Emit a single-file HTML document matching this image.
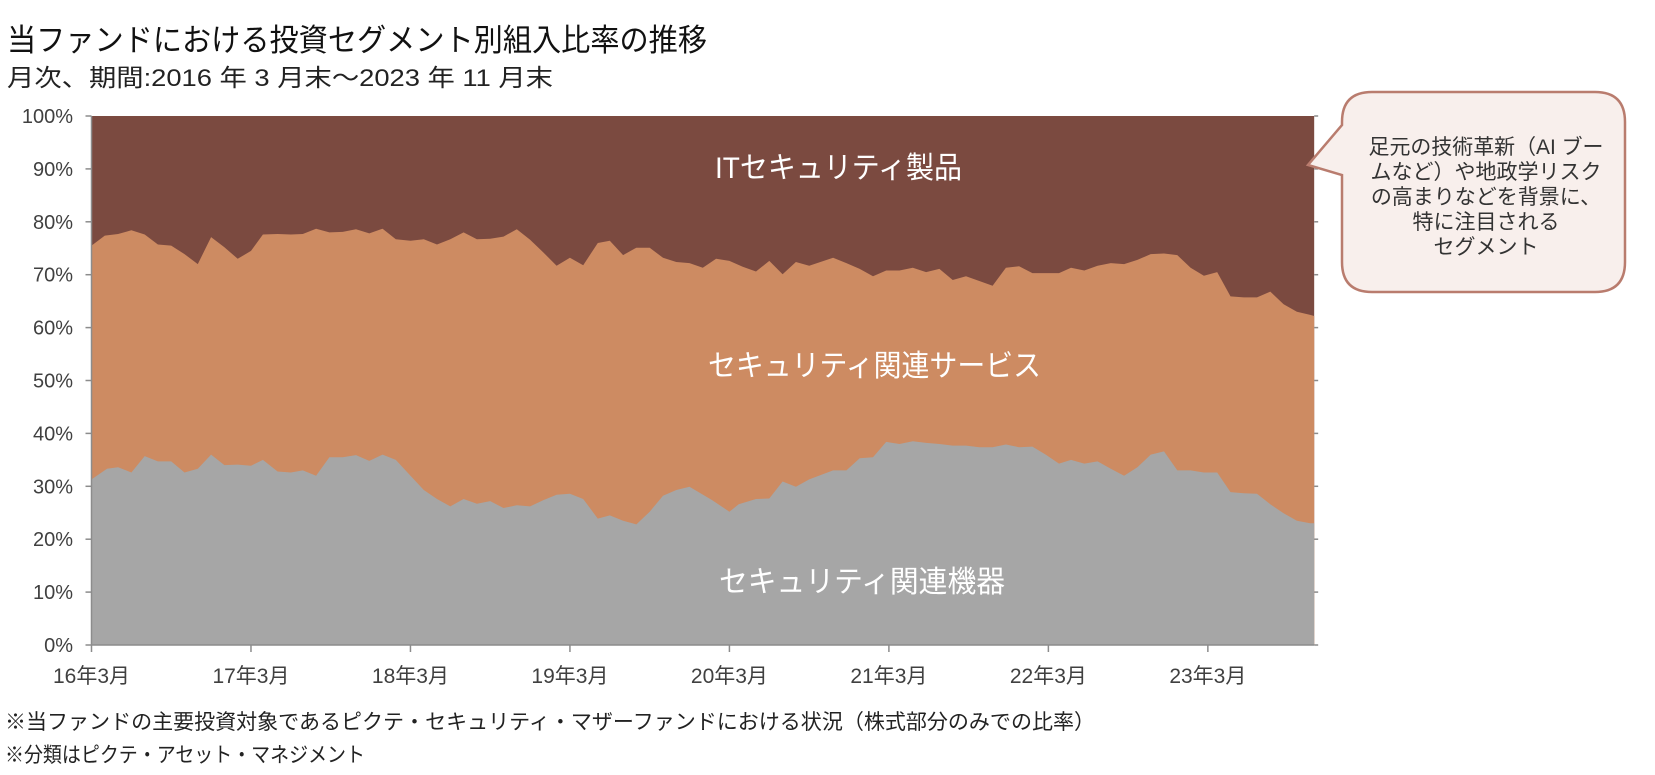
<!DOCTYPE html>
<html><head><meta charset="utf-8">
<style>
html,body{margin:0;padding:0;background:#fff;}
svg{display:block;}
text{font-family:"Liberation Sans","Noto Sans CJK JP",sans-serif;}
</style></head>
<body>
<svg id="s" width="1655" height="775" viewBox="0 0 1655 775" xmlns="http://www.w3.org/2000/svg">
<text x="7" y="51" font-size="31" fill="#111" textLength="700" lengthAdjust="spacingAndGlyphs">当ファンドにおける投資セグメント別組入比率の推移</text>
<text x="7" y="86" font-size="24" fill="#222" textLength="546" lengthAdjust="spacingAndGlyphs">月次、期間:2016 年 3 月末～2023 年 11 月末</text>
<path id="top" fill="#7B4A40" d=""/>
<path id="mid" fill="#CD8B62" d=""/>
<path id="bot" fill="#A6A6A6" d=""/>
<g id="axes" stroke="#8c8c8c" stroke-width="1.5" fill="none"></g>
<g id="ylab" font-size="20" fill="#404040" text-anchor="end"></g>
<g id="xlab" font-size="21" fill="#404040" text-anchor="middle"></g>
<text x="715" y="178" font-size="30" fill="#fff" textLength="247" lengthAdjust="spacingAndGlyphs">ITセキュリティ製品</text>
<text x="708" y="376" font-size="30" fill="#fff" textLength="333" lengthAdjust="spacingAndGlyphs">セキュリティ関連サービス</text>
<text x="719" y="592" font-size="30" fill="#fff" textLength="286" lengthAdjust="spacingAndGlyphs">セキュリティ関連機器</text>
<path d="M1372 92 H1595 Q1625 92 1625 122 V262 Q1625 292 1595 292 H1372 Q1342 292 1342 262 V175 L1308 165 L1342 125 V122 Q1342 92 1372 92 Z" fill="#F8EFEC" stroke="#B97C6E" stroke-width="2.5"/>
<g font-size="21" fill="#333" text-anchor="middle">
<text x="1486" y="154" textLength="235" lengthAdjust="spacingAndGlyphs">足元の技術革新（AI ブー</text>
<text x="1486" y="179">ムなど）や地政学リスク</text>
<text x="1486" y="204">の高まりなどを背景に、</text>
<text x="1486" y="229">特に注目される</text>
<text x="1486" y="254">セグメント</text>
</g>
<text x="5" y="729" font-size="21" fill="#222" textLength="1090" lengthAdjust="spacingAndGlyphs">※当ファンドの主要投資対象であるピクテ・セキュリティ・マザーファンドにおける状況（株式部分のみでの比率）</text>
<text x="5" y="762" font-size="21" fill="#222" textLength="360" lengthAdjust="spacingAndGlyphs">※分類はピクテ・アセット・マネジメント</text>
</svg>
<script>
var X0=91.5,DX=13.29,Y0=645,DY=5.29;
function X(i){return X0+i*DX;}function Y(v){return Y0-v*DY;}
var gray=[[0,31.3],[1.17,33.3],[2,33.6],[3,32.6],[4,35.7],[5,34.7],[6,34.7],[7,32.6],[8,33.3],[9,36],[10,34],[11,34.1],[12,33.9],[12.9,35],[14,32.8],[15,32.6],[15.9,33],[16.9,32],[17.9,35.5],[18.9,35.5],[19.9,35.9],[20.9,34.8],[21.9,36],[22.9,35],[24,32],[25,29.3],[26,27.6],[27,26.2],[28,27.6],[29,26.7],[30,27.2],[31,25.9],[32,26.4],[33,26.2],[34,27.4],[35,28.4],[36,28.6],[37,27.6],[38.1,23.9],[39,24.5],[40,23.5],[41,22.8],[42,25.2],[43,28.2],[44,29.3],[45,29.9],[46.7,27.4],[48,25.2],[48.7,26.6],[50,27.6],[51,27.7],[52,30.9],[53,29.9],[54,31.3],[55.8,33],[56.8,33],[57.8,35.3],[58.8,35.5],[59.8,38.4],[60.8,38],[61.8,38.5],[62.8,38.2],[63.8,38],[64.8,37.7],[65.8,37.7],[66.8,37.4],[67.8,37.4],[68.8,37.9],[69.8,37.4],[70.8,37.5],[71.8,36],[72.8,34.3],[73.7,35],[74.7,34.3],[75.7,34.7],[76.7,33.3],[77.7,32],[78.7,33.6],[79.7,36],[80.7,36.6],[81.7,33],[82.7,33],[83.7,32.6],[84.7,32.6],[85.7,28.9],[86.7,28.7],[87.7,28.6],[88.7,26.6],[89.7,24.9],[90.7,23.5],[91.7,23],[92,23]];
var org=[[0,75.5],[1,77.4],[2,77.7],[3,78.4],[4,77.6],[5,75.7],[6,75.5],[7,73.9],[8,72],[9,77.1],[10,75.2],[11,73],[12,74.5],[12.9,77.6],[14,77.7],[15,77.6],[15.9,77.7],[16.9,78.7],[17.9,78],[18.9,78.1],[19.9,78.6],[20.9,77.8],[21.9,78.7],[22.9,76.7],[24,76.4],[25,76.7],[26,75.7],[27,76.7],[28,78],[29,76.7],[30,76.8],[31,77.2],[32,78.6],[33,76.6],[34,74.2],[35,71.7],[36,73.2],[37,71.8],[38.1,76],[39,76.4],[40,73.7],[41,75.1],[42,75.1],[43,73.2],[44,72.4],[45,72.2],[46,71.3],[47,73],[48,72.6],[49,71.5],[50,70.6],[51,72.6],[52,70.1],[53,72.4],[54,71.7],[55.8,73.2],[56.8,72.2],[57.8,71.1],[58.8,69.7],[59.8,70.8],[60.8,70.8],[61.8,71.3],[62.8,70.5],[63.8,71.1],[64.8,69],[65.8,69.7],[66.8,68.8],[67.8,67.9],[68.8,71.3],[69.8,71.6],[70.8,70.3],[71.8,70.3],[72.8,70.3],[73.7,71.3],[74.7,70.8],[75.7,71.7],[76.7,72.2],[77.7,72],[78.7,72.8],[79.7,73.9],[80.7,74],[81.7,73.7],[82.7,71.3],[83.7,69.8],[84.7,70.5],[85.7,65.9],[86.7,65.7],[87.7,65.7],[88.7,66.8],[89.7,64.4],[90.7,63],[91.7,62.4],[92,62.2]];
function line(a){return a.map(function(p){return X(p[0]).toFixed(1)+' '+Y(p[1]).toFixed(1);}).join(' L');}
var xe=X(92);
document.getElementById('top').setAttribute('d','M'+X(0)+' '+Y(100)+' L'+xe+' '+Y(100)+' L'+xe+' '+Y(0)+' L'+X(0)+' '+Y(0)+'Z');
document.getElementById('mid').setAttribute('d','M'+line(org)+' L'+xe+' '+Y(0)+' L'+X(0)+' '+Y(0)+'Z');
document.getElementById('bot').setAttribute('d','M'+line(gray)+' L'+xe+' '+Y(0)+' L'+X(0)+' '+Y(0)+'Z');
var ns='http://www.w3.org/2000/svg',ax=document.getElementById('axes'),yl=document.getElementById('ylab'),xl=document.getElementById('xlab');
function el(t,at,par,txt){var e=document.createElementNS(ns,t);for(var k in at)e.setAttribute(k,at[k]);if(txt)e.textContent=txt;par.appendChild(e);return e;}
el('line',{x1:X0,y1:Y(100),x2:X0,y2:Y(0)},ax);
el('line',{x1:X0,y1:Y(0),x2:xe,y2:Y(0)},ax);
for(var v=0;v<=100;v+=10){var y=Y(v);el('line',{x1:X0-6,y1:y,x2:X0,y2:y},ax);el('line',{x1:xe,y1:y,x2:xe+4,y2:y},ax);
el('text',{x:73,y:y+7},yl,v+'%');}
for(var k=0;k<8;k++){var x=X(k*12);el('line',{x1:x,y1:Y(0),x2:x,y2:Y(0)+7},ax);
el('text',{x:x,y:683},xl,(16+k)+'年3月');}
</script>
</body></html>
